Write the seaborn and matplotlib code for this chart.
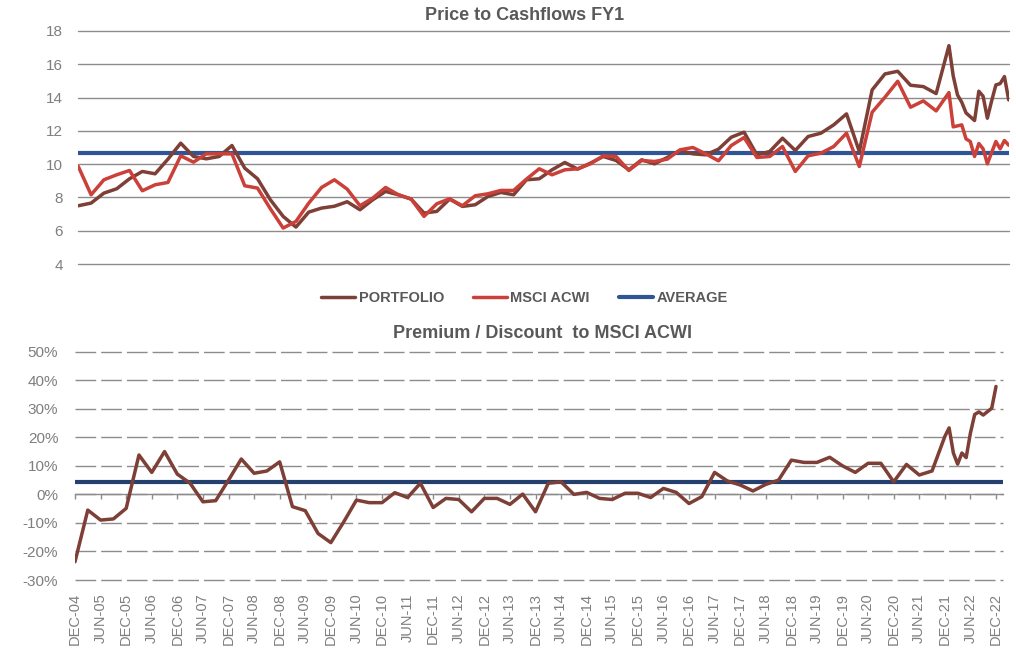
import matplotlib
matplotlib.use("Agg")
import matplotlib.pyplot as plt
import seaborn as sns
import pandas as pd
from matplotlib.ticker import FuncFormatter

# ---------------- data ----------------
# quarterly observations Dec-04 .. Dec-21, then monthly
quarter_periods = list(pd.period_range("2004-12", "2021-12", freq="M")[::3])
top_monthly = list(pd.period_range("2022-01", "2023-02", freq="M"))
bottom_monthly = list(pd.period_range("2022-01", "2022-12", freq="M"))
top_periods = quarter_periods + top_monthly
bottom_periods = quarter_periods + bottom_monthly

portfolio = [
    7.50, 7.66, 8.26, 8.52, 9.12, 9.56, 9.42, 10.30, 11.26, 10.46,
    10.32, 10.46, 11.12, 9.76, 9.12, 7.86, 6.86, 6.22, 7.12, 7.36,
    7.47, 7.74, 7.26, 7.86, 8.36, 8.16, 7.90, 7.06, 7.16, 7.90,
    7.46, 7.56, 8.06, 8.30, 8.16, 9.06, 9.12, 9.66, 10.10, 9.70,
    10.06, 10.46, 10.22, 9.66, 10.26, 10.02, 10.40, 10.82, 10.62, 10.56,
    10.90, 11.62, 11.92, 10.56, 10.76, 11.56, 10.82, 11.66, 11.86, 12.36,
    13.02, 10.76, 14.46, 15.42, 15.58, 14.74, 14.66, 14.24, 17.12,
    15.30, 14.16, 13.72, 13.08, 12.85, 12.62, 14.38, 14.08, 12.76, 13.80,
    14.76, 14.84, 15.26, 13.86,
]
msci_acwi = [
    9.86, 8.16, 9.06, 9.36, 9.62, 8.40, 8.76, 8.90, 10.50, 10.12,
    10.62, 10.62, 10.62, 8.70, 8.56, 7.32, 6.16, 6.56, 7.66, 8.60,
    9.06, 8.50, 7.50, 7.96, 8.60, 8.16, 7.90, 6.86, 7.62, 7.92,
    7.50, 8.10, 8.22, 8.42, 8.42, 9.10, 9.72, 9.36, 9.66, 9.72,
    10.02, 10.50, 10.46, 9.62, 10.22, 10.16, 10.30, 10.86, 11.00, 10.62,
    10.20, 11.12, 11.60, 10.40, 10.46, 11.06, 9.56, 10.50, 10.66, 11.06,
    11.86, 9.86, 13.12, 14.02, 14.98, 13.42, 13.80, 13.20, 14.30,
    12.24, 12.30, 12.36, 11.52, 11.36, 10.46, 11.24, 10.92, 10.02, 10.70,
    11.36, 10.92, 11.42, 11.14,
]
average_pcf = 10.65

premium = [
    -23.6, -5.5, -9.0, -8.6, -4.9, 13.8, 7.7, 15.0, 7.1, 3.9,
    -2.6, -2.2, 5.0, 12.4, 7.4, 8.2, 11.4, -4.3, -5.7, -13.7,
    -16.9, -9.7, -2.0, -2.9, -2.9, 0.6, -1.1, 3.9, -4.6, -1.4,
    -1.8, -6.1, -1.4, -1.4, -3.5, 0.1, -6.1, 3.9, 4.4, 0.0,
    0.7, -1.4, -1.8, 0.4, 0.4, -1.1, 2.1, 0.7, -3.2, -0.8,
    7.7, 4.7, 3.3, 1.2, 3.5, 5.0, 12.0, 11.2, 11.2, 13.0,
    10.0, 7.7, 10.9, 10.9, 4.4, 10.5, 6.8, 8.2, 20.3,
    23.3, 14.5, 10.6, 14.5, 12.9, 21.5, 28.0, 28.9, 27.8, 29.0,
    30.2, 37.8,
]
average_premium = 4.4

x_tick_labels = [
    "DEC-04", "JUN-05", "DEC-05", "JUN-06", "DEC-06", "JUN-07", "DEC-07",
    "JUN-08", "DEC-08", "JUN-09", "DEC-09", "JUN-10", "DEC-10", "JUN-11",
    "DEC-11", "JUN-12", "DEC-12", "JUN-13", "DEC-13", "JUN-14", "DEC-14",
    "JUN-15", "DEC-15", "JUN-16", "DEC-16", "JUN-17", "DEC-17", "JUN-18",
    "DEC-18", "JUN-19", "DEC-19", "JUN-20", "DEC-20", "JUN-21", "DEC-21",
    "JUN-22", "DEC-22",
]

# ---------------- styling ----------------
sns.set_theme(style="white")
plt.rcParams["font.family"] = ["Liberation Sans", "DejaVu Sans"]

BROWN = "#7D3F36"
RED = "#CB4038"
BLUE_TOP = "#2F5597"
BLUE_BOT = "#23406F"
GRID = "#8C8C8C"
TICKTXT = "#7F7F7F"
TITLE = "#595959"

origin = pd.Period("2004-12", freq="M")
x_top = [(p - origin).n for p in top_periods]
x_bot = [(p - origin).n for p in bottom_periods]
tick_pos = [6 * i for i in range(len(x_tick_labels))]

W, H = 1016, 649
fig = plt.figure(figsize=(W / 100, H / 100), dpi=100)
ax1 = fig.add_axes([78.3 / W, 1 - 264 / H, 930.4 / W, 233 / H])
ax2 = fig.add_axes([75 / W, 1 - 580 / H, 928 / W, 228.3 / H])

# ---- top chart ----
df_top = pd.DataFrame({"x": x_top, "PORTFOLIO": portfolio, "MSCI ACWI": msci_acwi})
ax1.axhline(average_pcf, color=BLUE_TOP, lw=3.0, zorder=2, label="AVERAGE")
sns.lineplot(data=df_top, x="x", y="PORTFOLIO", ax=ax1, color=BROWN, lw=2.5,
             label="PORTFOLIO", zorder=3, legend=False)
sns.lineplot(data=df_top, x="x", y="MSCI ACWI", ax=ax1, color=RED, lw=2.5,
             label="MSCI ACWI", zorder=4, legend=False)
ax1.set_xlim(min(x_top), max(x_top))
ax1.set_ylim(4, 18)
ax1.set_yticks(range(4, 19, 2))
ax1.set_xticks([])
ax1.set_xlabel("")
ax1.set_ylabel("")
ax1.grid(axis="y", color=GRID, lw=1.0)
ax1.set_axisbelow(True)
for s in ax1.spines.values():
    s.set_visible(False)
ax1.tick_params(axis="y", length=0, pad=11, labelsize=11, labelcolor=TICKTXT)
for gl in ax1.get_ygridlines():
    gl.set_clip_on(False)

fig.text(525 / W, 1 - 15 / H, "Price to Cashflows FY1", ha="center", va="center",
         fontsize=13, fontweight="bold", color=TITLE)

# ---- bottom chart ----
df_bot = pd.DataFrame({"x": x_bot, "premium": premium})
ax2.axhline(average_premium, color=BLUE_BOT, lw=3.0, zorder=2)
sns.lineplot(data=df_bot, x="x", y="premium", ax=ax2, color=BROWN, lw=2.5, zorder=3,
             legend=False)
ax2.set_xlim(0, max(x_bot) + 1.64)
ax2.set_ylim(-30, 50)
ax2.set_yticks(range(-30, 51, 10))
ax2.yaxis.set_major_formatter(FuncFormatter(lambda v, p: f"{v:.0f}%"))
ax2.set_xlabel("")
ax2.set_ylabel("")
ax2.yaxis.grid(True, linestyle=(0, (14.9, 3.6)), color=GRID, lw=1.0)
ax2.xaxis.grid(False)
ax2.set_axisbelow(True)
for gl in ax2.get_ygridlines():
    gl.set_clip_on(False)
for k in ["top", "right", "left"]:
    ax2.spines[k].set_visible(False)
ax2.spines["bottom"].set_position(("data", 0))
ax2.spines["bottom"].set_color(GRID)
ax2.spines["bottom"].set_linewidth(1.0)
ax2.set_xticks(tick_pos)
ax2.tick_params(axis="x", direction="out", length=3.4, width=1.0, color=GRID,
                labelbottom=False, bottom=True)
ax2.tick_params(axis="y", length=0, pad=12, labelsize=11, labelcolor=TICKTXT)

sec = ax2.secondary_xaxis("bottom")
sec.set_xticks(tick_pos, labels=x_tick_labels, rotation=90)
sec.tick_params(length=0, pad=9.4, labelsize=10.5, labelcolor=TICKTXT)
sec.spines["bottom"].set_visible(False)

fig.text(542.8 / W, 1 - 333 / H, "Premium / Discount  to MSCI ACWI", ha="center",
         va="center", fontsize=13, fontweight="bold", color=TITLE)

# ---- legend ----
handles, labels = ax1.get_legend_handles_labels()
order = ["PORTFOLIO", "MSCI ACWI", "AVERAGE"]
hmap = dict(zip(labels, handles))
leg = fig.legend([hmap[o] for o in order], order, loc="center",
                 bbox_to_anchor=(524.5 / W, 1 - 298 / H), ncol=3, frameon=False,
                 handlelength=2.3, handletextpad=0.25, columnspacing=2.0,
                 prop={"weight": "bold", "size": 10.5})
for t in leg.get_texts():
    t.set_color(TITLE)

fig.savefig("out.png", dpi=100)
